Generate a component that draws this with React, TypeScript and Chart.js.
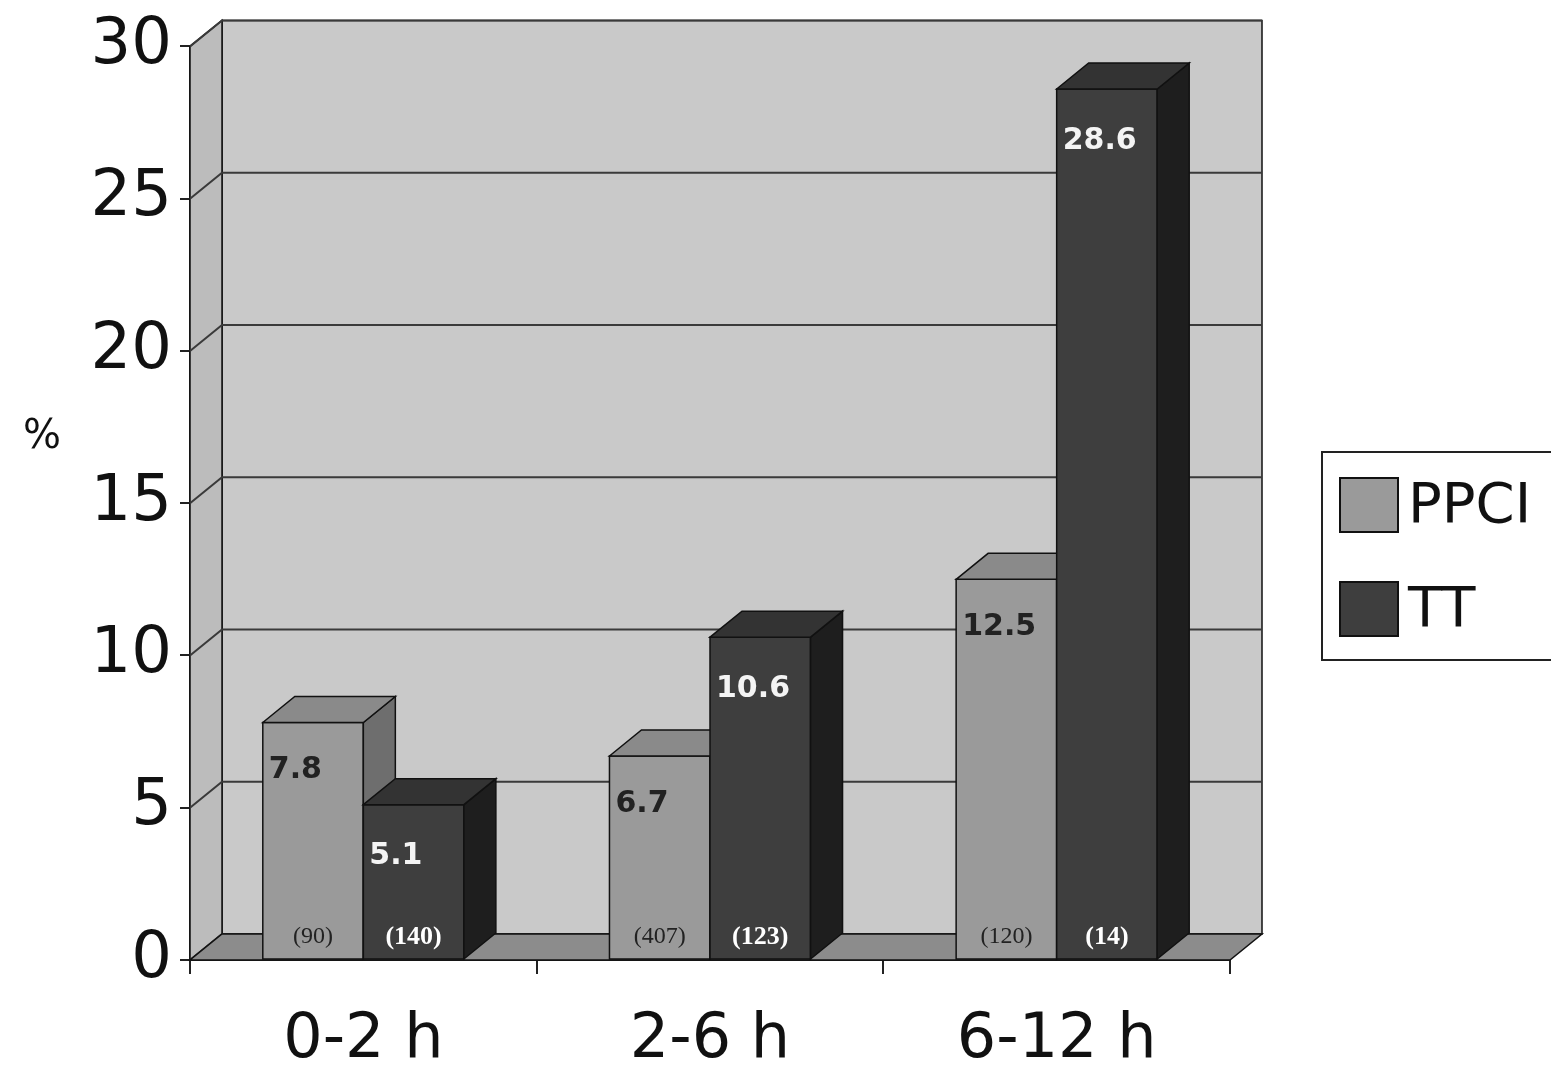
import React, { useEffect, useRef } from 'react';
import { Chart, registerables } from 'chart.js';

Chart.register(...registerables);

const categories = ['0-2 h', '2-6 h', '6-12 h'];
const ppciValues = [7.8, 6.7, 12.5];
const ttValues = [5.1, 10.6, 28.6];
const ppciCounts = ['(90)', '(407)', '(120)'];
const ttCounts = ['(140)', '(123)', '(14)'];

const DX = 32;
const DY = -26;
const FONT = '"DejaVu Sans", Verdana, sans-serif';

const colors = {
  ppci: { front: '#9a9a9a', top: '#8a8a8a', side: '#6e6e6e' },
  tt: { front: '#3e3e3e', top: '#333333', side: '#1e1e1e' },
};

function poly(ctx: CanvasRenderingContext2D, pts: number[][], fill: string) {
  ctx.beginPath();
  ctx.moveTo(pts[0][0], pts[0][1]);
  pts.slice(1).forEach((p) => ctx.lineTo(p[0], p[1]));
  ctx.closePath();
  ctx.fillStyle = fill;
  ctx.fill();
  ctx.strokeStyle = '#111';
  ctx.lineWidth = 1.5;
  ctx.stroke();
}

const box3d = {
  id: 'box3d',
  beforeDatasetsDraw(chart: any) {
    const { ctx, chartArea: a } = chart;
    const y = chart.scales.y;
    ctx.save();
    // back wall
    poly(ctx, [[a.left + DX, a.top + DY], [a.right + DX, a.top + DY], [a.right + DX, a.bottom + DY], [a.left + DX, a.bottom + DY]], '#c9c9c9');
    // left wall
    poly(ctx, [[a.left, a.top], [a.left + DX, a.top + DY], [a.left + DX, a.bottom + DY], [a.left, a.bottom]], '#bcbcbc');
    // gridlines
    ctx.strokeStyle = '#3a3a3a';
    ctx.lineWidth = 2;
    for (let v = 0; v <= 30; v += 5) {
      const py = y.getPixelForValue(v);
      ctx.beginPath();
      ctx.moveTo(a.left, py);
      ctx.lineTo(a.left + DX, py + DY);
      ctx.lineTo(a.right + DX, py + DY);
      ctx.stroke();
    }
    // floor
    poly(ctx, [[a.left, a.bottom], [a.right, a.bottom], [a.right + DX, a.bottom + DY], [a.left + DX, a.bottom + DY]], '#8c8c8c');
    // "%" label
    ctx.fillStyle = '#111';
    ctx.font = `40px ${FONT}`;
    ctx.textAlign = 'center';
    ctx.textBaseline = 'middle';
    ctx.fillText('%', 42, 438);
    ctx.restore();
  },
  afterDatasetsDraw(chart: any) {
    const { ctx } = chart;
    const m0 = chart.getDatasetMeta(0).data;
    const m1 = chart.getDatasetMeta(1).data;
    ctx.save();
    categories.forEach((_, i) => {
      [[m0[i], colors.ppci], [m1[i], colors.tt]].forEach(([bar, c]: any) => {
        const l = bar.x - bar.width / 2;
        const r = bar.x + bar.width / 2;
        const t = bar.y;
        const b = bar.base;
        poly(ctx, [[l, t], [r, t], [r, b], [l, b]], c.front);
        poly(ctx, [[r, t], [r + DX, t + DY], [r + DX, b + DY], [r, b]], c.side);
        poly(ctx, [[l, t], [l + DX, t + DY], [r + DX, t + DY], [r, t]], c.top);
      });
      // value labels
      const p = m0[i];
      const q = m1[i];
      ctx.font = `bold 30px ${FONT}`;
      ctx.textAlign = 'left';
      ctx.textBaseline = 'middle';
      ctx.fillStyle = '#222';
      ctx.fillText(ppciValues[i].toFixed(1), p.x - p.width / 2 + 6, p.y + 48);
      ctx.fillStyle = '#f4f4f4';
      ctx.fillText(ttValues[i].toFixed(1), q.x - q.width / 2 + 6, q.y + 52);
      ctx.textAlign = 'center';
      ctx.fillStyle = '#222';
      ctx.font = `24px "Liberation Serif", serif`;
      ctx.fillText(ppciCounts[i], p.x, p.base - 22);
      ctx.fillStyle = '#fff';
      ctx.font = `bold 26px "Liberation Serif", serif`;
      ctx.fillText(ttCounts[i], q.x, q.base - 22);
    });
    // legend
    ctx.fillStyle = '#fff';
    ctx.fillRect(1322, 452, 240, 208);
    ctx.strokeStyle = '#222';
    ctx.lineWidth = 2;
    ctx.strokeRect(1322, 452, 240, 208);
    const items: [string, string][] = [['PPCI', colors.ppci.front], ['TT', colors.tt.front]];
    items.forEach(([label, col], k) => {
      const yy = 478 + k * 104;
      ctx.fillStyle = col;
      ctx.fillRect(1340, yy, 58, 54);
      ctx.strokeStyle = '#111';
      ctx.strokeRect(1340, yy, 58, 54);
      ctx.fillStyle = '#111';
      ctx.font = `56px ${FONT}`;
      ctx.textAlign = 'left';
      ctx.textBaseline = 'middle';
      ctx.fillText(label, 1408, yy + 29);
    });
    ctx.restore();
  },
};

export default function App() {
  const canvasRef = useRef<HTMLCanvasElement>(null);

  useEffect(() => {
    document.body.style.margin = '0';
    if (!canvasRef.current) return;
    const chart = new Chart(canvasRef.current, {
      type: 'bar',
      data: {
        labels: categories,
        datasets: [
          { label: 'PPCI', data: ppciValues, backgroundColor: 'rgba(0,0,0,0)' },
          { label: 'TT', data: ttValues, backgroundColor: 'rgba(0,0,0,0)' },
        ],
      },
      options: {
        animation: false,
        responsive: false,
        maintainAspectRatio: false,
        layout: { padding: { top: 35, right: 321, left: 0, bottom: 0 } },
        datasets: { bar: { categoryPercentage: 0.58, barPercentage: 1 } },
        plugins: { legend: { display: false }, tooltip: { enabled: false } },
        scales: {
          x: {
            afterFit: (s: any) => { s.height = 116; },
            grid: { display: true, offset: true, drawOnChartArea: false, tickLength: 14, color: '#222', lineWidth: 2 },
            border: { color: '#222', width: 2 },
            ticks: { color: '#111', font: { size: 62, family: FONT }, padding: 30 },
          },
          y: {
            min: 0,
            max: 30,
            afterFit: (s: any) => { s.width = 190; },
            grid: { drawOnChartArea: false, tickLength: 10, color: '#222', lineWidth: 2 },
            border: { color: '#222', width: 2 },
            ticks: { stepSize: 5, color: '#111', font: { size: 64, family: FONT }, padding: 8 },
          },
        },
      },
      plugins: [box3d],
    });
    return () => chart.destroy();
  }, []);

  return (
    <div style={{ width: 1551, height: 1076, background: '#fff' }}>
      <canvas ref={canvasRef} width={1551} height={1076} style={{ width: 1551, height: 1076 }} />
    </div>
  );
}
